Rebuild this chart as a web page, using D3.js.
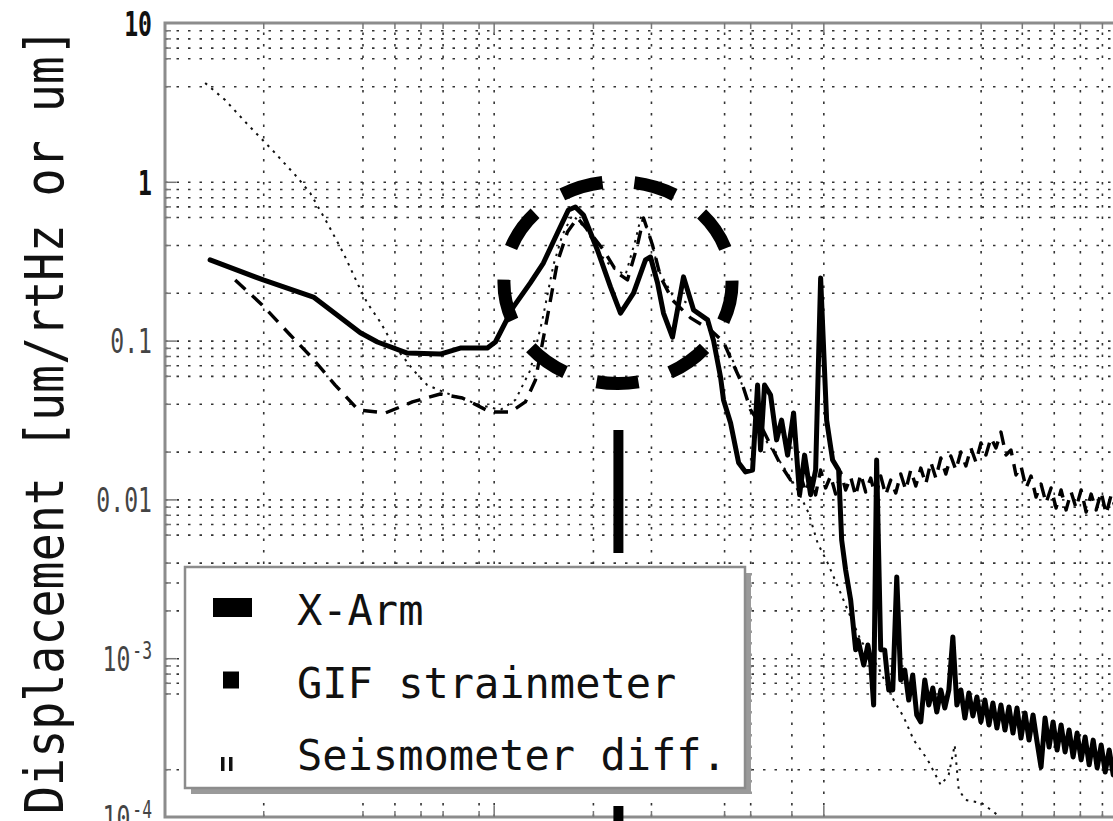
<!DOCTYPE html>
<html>
<head>
<meta charset="utf-8">
<script src="https://cdn.jsdelivr.net/npm/d3@7"></script>
<style>
  html, body { margin: 0; padding: 0; background: #fff; overflow: hidden; }
  svg { display: block; }
</style>
</head>
<body>
<svg id="chart" width="1113" height="821"></svg>
<script>
// ---- Data: [frequency (Hz), displacement (um/rtHz or um)] ----
const xArm = [
  [0.0138,0.322],[0.02,0.241],[0.0284,0.188],[0.0335,0.145],[0.0394,0.112],[0.0444,0.098],
  [0.0547,0.0835],[0.0689,0.0823],[0.0792,0.0898],[0.0957,0.0898],[0.1012,0.098],[0.1148,0.163],
  [0.1292,0.231],[0.1415,0.308],[0.1561,0.476],[0.1686,0.665],[0.177,0.694],[0.1872,0.618],
  [0.2064,0.372],[0.2261,0.218],[0.2425,0.149],[0.2656,0.199],[0.2888,0.322],[0.299,0.336],
  [0.3141,0.231],[0.3274,0.149],[0.3486,0.105],[0.3766,0.252],[0.404,0.156],[0.4456,0.135],
  [0.4645,0.1],[0.4877,0.059],[0.498,0.0423],[0.5232,0.0303],[0.5534,0.017],[0.5809,0.0149],
  [0.61,0.0153],[0.6317,0.0525],[0.6451,0.0205],[0.6632,0.0525],[0.6918,0.0454],[0.7215,0.0237],
  [0.7471,0.0316],[0.779,0.019],[0.8124,0.035],[0.8472,0.0107],[0.8773,0.019],[0.9149,0.0107],
  [0.9477,0.0153],[0.9813,0.248],[1.0233,0.0316],[1.067,0.0177],[1.1129,0.0153],[1.1366,0.00555],
  [1.1687,0.00359],[1.2102,0.00233],[1.2533,0.00113],[1.275,0.0013],[1.326,0.000906],[1.365,0.00121],
  [1.392,0.000946],[1.421,0.000507],[1.451,0.0177],[1.493,0.00113],
  [1.535,0.001126],[1.579,0.000631],[1.624,0.000631],[1.67,0.00325],[1.717,0.000729],[1.766,0.000843],
  [1.816,0.000545],[1.867,0.000784],[1.92,0.000439],[1.975,0.000397],[2.031,0.000729],[2.089,0.000507],
  [2.148,0.000649],[2.209,0.000458],[2.272,0.000631],[2.336,0.000486],[2.403,0.000631],[2.471,0.00136],
  [2.541,0.000507],[2.613,0.000631],[2.688,0.00042],[2.764,0.000604],[2.842,0.000433],[2.923,0.00057],
  [3.006,0.000397],[3.091,0.000545],[3.179,0.00038],[3.269,0.000522],[3.362,0.000363],[3.458,0.000507],
  [3.556,0.000353],[3.657,0.000493],[3.761,0.000338],[3.868,0.000486],[3.977,0.000314],[4.09,0.000452],
  [4.207,0.000305],[4.326,0.000439],[4.449,0.000297],[4.575,0.000206],[4.705,0.00042],[4.839,0.000276],
  [4.976,0.000397],[5.118,0.000264],[5.263,0.00038],[5.412,0.000257],[5.566,0.000353],[5.724,0.000239],
  [5.887,0.000338],[6.054,0.000229],[6.226,0.000319],[6.403,0.000213],[6.585,0.000305],[6.772,0.000204],
  [6.964,0.000284],[7.162,0.000192],[7.366,0.000264],[7.575,0.000184],[7.79,0.000257]
];

const gifStrainmeter = [
  [0.01644,0.241],[0.01985,0.1676],[0.02415,0.1085],[0.02816,0.0777],[0.03306,0.0525],[0.03884,0.0366],
  [0.0469,0.035],[0.0567,0.0411],[0.0689,0.0461],[0.0804,0.0435],[0.0977,0.0355],[0.1124,0.0355],
  [0.1248,0.0411],[0.1339,0.0565],[0.1455,0.1408],[0.1561,0.3125],[0.1674,0.483],[0.1795,0.592],
  [0.1966,0.476],[0.2153,0.372],[0.2375,0.267],[0.2546,0.241],[0.2731,0.4],[0.2848,0.592],
  [0.3032,0.4],[0.3207,0.2515],[0.3486,0.18],[0.3955,0.139],[0.4549,0.1166],[0.498,0.098],
  [0.5343,0.0702],[0.5689,0.0525],[0.6017,0.0366],[0.6451,0.0294],[0.6918,0.022],[0.742,0.0165],
  [0.7956,0.01325],
  [0.853,0.01424],[0.8834,0.01113],[0.9148,0.01364],[0.9474,0.01066],[0.9811,0.01531],[1.016,0.0118],
  [1.0522,0.01404],[1.0897,0.01081],[1.1285,0.01488],[1.1687,0.01146],[1.2103,0.01384],[1.2534,0.0105],
  [1.298,0.01445],[1.3442,0.01113],[1.3921,0.01364],[1.4417,0.01035],[1.493,0.01404],[1.5462,0.01066],
  [1.6012,0.01325],[1.6583,0.01097],[1.7173,0.01445],[1.7785,0.01146],[1.8418,0.01531],[1.9074,0.01214],
  [1.9753,0.01576],[2.0457,0.0125],[2.1185,0.0172],[2.194,0.01364],[2.2721,0.01823],[2.353,0.01445],
  [2.4368,0.01876],[2.5236,0.01531],[2.6135,0.01988],[2.7066,0.01623],[2.803,0.02107],[2.9028,0.0172],
  [3.0062,0.02266],[3.1132,0.01904],[3.2241,0.02436],[3.3389,0.02107],[3.4578,0.02657],[3.581,0.01904],
  [3.7085,0.02047],[3.8406,0.01424],[3.9774,0.01623],[4.119,0.0118],[4.2657,0.01404],[4.4176,0.01035],
  [4.575,0.0125],[4.7379,0.00949],[4.9066,0.0118],[5.0814,0.00883],[5.2623,0.01146],[5.4497,0.00858],
  [5.6438,0.01113],[5.8448,0.00883],[6.053,0.01146],[6.2686,0.00833],[6.4918,0.01081],[6.723,0.00858],
  [6.9624,0.01113],[7.2104,0.0081],[7.4672,0.01066],[7.7331,0.00858]
];

const seismometerDiff = [
  [0.01333,4.19],[0.01533,3.27],[0.018,2.28],[0.0213,1.586],[0.025,1.104],[0.02777,0.85],
  [0.03127,0.55],[0.035,0.356],[0.03884,0.224],[0.04136,0.1725],[0.04529,0.131],[0.0496,0.0938],
  [0.0532,0.0788],[0.057,0.0653],[0.0629,0.0525],[0.07036,0.0475],[0.0792,0.0435],[0.0911,0.0393],
  [0.1048,0.0366],[0.1164,0.0423],[0.1292,0.0653],[0.1405,0.1348],[0.1518,0.299],[0.1616,0.462],
  [0.1733,0.618],[0.1899,0.512],[0.2109,0.346],[0.2293,0.287],[0.2511,0.259],[0.2693,0.43],
  [0.2808,0.618],[0.299,0.443],[0.3162,0.278],[0.3486,0.194],[0.3955,0.1676],[0.4392,0.1348],
  [0.4745,0.0938],[0.5122,0.0898],[0.5494,0.0634],[0.5809,0.0454],[0.6228,0.0316],[0.6676,0.0237],
  [0.7166,0.019],[0.7682,0.0153],[0.8353,0.01146],[0.9025,0.0082],[0.961,0.00531],[1.0306,0.00398],
  [1.1286,0.00257],[1.185,0.00201],[1.298,0.0013],[1.472,0.000868],[1.635,0.000545],[1.753,0.000426],
  [1.8803,0.000305],[2.073,0.000229],[2.2706,0.000159],[2.4,0.000184],[2.503,0.000284],[2.575,0.000148],
  [2.704,0.000128],[3.02,0.0001225],[3.289,0.0001075],[3.576,0.000093]
];

// Axis ticks, grid values and labels
const yLabelValues = [10, 1, 0.1, 0.01, 1e-3, 1e-4];
const yLabelText = ["10", "1", "0.1", "0.01", "10^-3", "10^-4"];
const yGridMajor = [1, 0.1, 0.01, 1e-3];
const yGridMinor = [9, 8, 7, 6, 4,
  0.9, 0.8, 0.7, 0.6, 0.4, 0.2,
  0.09, 0.08, 0.07, 0.06, 0.04, 0.02,
  0.009, 0.008, 0.007, 0.006, 0.004, 0.003, 0.002,
  9e-4, 8e-4, 7e-4, 6e-4, 2e-4];
const xGridMajor = [0.1, 1];
const xGridMinor = [0.02, 0.04, 0.05, 0.06, 0.07, 0.09,
  0.2, 0.3, 0.5, 0.6, 0.8,
  3, 4, 5, 6, 7];

const legendLabels = ["X-Arm", "GIF strainmeter", "Seismometer diff."];
const yTitle = "Displacement [um/rtHz or um]";

// Highlighted microseism band (centre frequency / level) and marker line
const highlightCentre = [0.2383, 0.232];
const markerFreq = 0.239;
const markerTop = 0.0274;

// ---- Layout ----
const svg = d3.select("#chart");
const plot = { left: 165, right: 1153, top: 23, bottom: 817 };
const mono = "'DejaVu Sans Mono', 'Liberation Mono', monospace";

const x = d3.scaleLog().domain([0.01, 10]).range([164, 1153]);
const y = d3.scaleLog().domain([1e-4, 10]).range([817, 23]);

svg.append("rect").attr("width", 1113).attr("height", 821).attr("fill", "#fff");

// ---- Grid ----
const gridStyle = g => {
  g.select(".domain").remove();
  g.selectAll(".tick line")
    .attr("stroke", "#333")
    .attr("stroke-width", 1.6)
    .attr("stroke-dasharray", "2.5,9");
};
svg.append("g")
  .attr("transform", `translate(${plot.left},0)`)
  .call(d3.axisLeft(y).tickValues(yGridMajor.concat(yGridMinor))
    .tickSize(-(plot.right - plot.left)).tickFormat(""))
  .call(gridStyle);
svg.append("g")
  .attr("transform", `translate(0,${plot.bottom})`)
  .call(d3.axisBottom(x).tickValues(xGridMajor.concat(xGridMinor))
    .tickSize(-(plot.bottom - plot.top)).tickFormat(""))
  .call(gridStyle);

// ---- Curves ----
svg.append("clipPath").attr("id", "plotClip")
  .append("rect")
  .attr("x", plot.left).attr("y", plot.top)
  .attr("width", plot.right - plot.left).attr("height", plot.bottom - plot.top);

const line = d3.line().x(d => x(d[0])).y(d => y(d[1]));
const curves = svg.append("g").attr("clip-path", "url(#plotClip)");

curves.append("path").datum(seismometerDiff)
  .attr("d", line).attr("fill", "none")
  .attr("stroke", "#111").attr("stroke-width", 2)
  .attr("stroke-dasharray", "2.5,5.5");

curves.append("path").datum(gifStrainmeter)
  .attr("d", line).attr("fill", "none")
  .attr("stroke", "#000").attr("stroke-width", 3.4)
  .attr("stroke-linejoin", "round")
  .attr("stroke-dasharray", "14,9");

curves.append("path").datum(xArm)
  .attr("d", line).attr("fill", "none")
  .attr("stroke", "#000").attr("stroke-width", 5)
  .attr("stroke-linejoin", "round").attr("stroke-linecap", "round");

// ---- Frame and inner ticks ----
svg.append("rect")
  .attr("x", plot.left).attr("y", plot.top)
  .attr("width", plot.right - plot.left).attr("height", plot.bottom - plot.top)
  .attr("fill", "none").attr("stroke", "#8c8c8c").attr("stroke-width", 3);

const tickStyle = g => {
  g.select(".domain").remove();
  g.selectAll(".tick line").attr("stroke", "#777").attr("stroke-width", 1.5);
};
svg.append("g").attr("transform", `translate(${plot.left},0)`)
  .call(d3.axisLeft(y).tickValues(yGridMinor).tickSize(-6).tickFormat("")).call(tickStyle);
svg.append("g").attr("transform", `translate(${plot.left},0)`)
  .call(d3.axisLeft(y).tickValues(yGridMajor).tickSize(-11).tickFormat("")).call(tickStyle);
svg.append("g").attr("transform", `translate(0,${plot.top})`)
  .call(d3.axisTop(x).tickValues(xGridMinor).tickSize(-6).tickFormat("")).call(tickStyle);
svg.append("g").attr("transform", `translate(0,${plot.top})`)
  .call(d3.axisTop(x).tickValues(xGridMajor).tickSize(-11).tickFormat("")).call(tickStyle);
svg.append("g").attr("transform", `translate(0,${plot.bottom})`)
  .call(d3.axisBottom(x).tickValues(xGridMinor).tickSize(-6).tickFormat("")).call(tickStyle);
svg.append("g").attr("transform", `translate(0,${plot.bottom})`)
  .call(d3.axisBottom(x).tickValues(xGridMajor).tickSize(-11).tickFormat("")).call(tickStyle);

// ---- Y tick labels ----
const labelScaleX = 0.68;
const labelAxis = svg.append("g")
  .attr("transform", `translate(${plot.left},0)`)
  .call(d3.axisLeft(y).tickValues(yLabelValues).tickSize(0).tickPadding(13)
    .tickFormat((d, i) => yLabelText[i]));
labelAxis.select(".domain").remove();
labelAxis.attr("font-family", mono).attr("font-size", 34);
labelAxis.selectAll(".tick text").each(function (d, i) {
  const t = d3.select(this);
  const label = yLabelText[i];
  t.text(null)
    .attr("transform", `scale(${labelScaleX},1)`)
    .attr("x", -13 / labelScaleX)
    .attr("dy", "0.36em")
    .attr("fill", i < 2 ? "#111" : "#444")
    .attr("font-weight", i < 2 ? "bold" : "normal");
  if (label.includes("^")) {
    const [base, exp] = label.split("^");
    t.append("tspan").text(base);
    t.append("tspan").attr("dx", 3).attr("dy", "-0.5em").attr("font-size", 24).text(exp);
  } else {
    t.text(label);
  }
});

// ---- Y axis title ----
svg.append("text")
  .attr("transform", "translate(63,421) rotate(-90)")
  .attr("text-anchor", "middle")
  .attr("font-family", mono)
  .attr("font-size", 54)
  .attr("fill", "#111")
  .attr("textLength", 786)
  .attr("lengthAdjust", "spacingAndGlyphs")
  .text(yTitle);

// ---- Highlight: dashed ellipse around the microseism peaks ----
const cx = x(highlightCentre[0]), cy = y(highlightCentre[1]);
const rx = 114, ry = 101;
const ell = svg.append("path")
  .attr("d", `M${cx},${cy - ry} A${rx},${ry} 0 1,1 ${cx},${cy + ry} A${rx},${ry} 0 1,1 ${cx},${cy - ry}`)
  .attr("fill", "none").attr("stroke", "#000").attr("stroke-width", 13);
const L = ell.node().getTotalLength();
const period = L / 9, dash = period * 0.56, gap = period - dash;
ell.attr("stroke-dasharray", `${dash},${gap}`)
   .attr("stroke-dashoffset", dash + gap / 2);

// ---- Marker line below the highlight ----
svg.append("line")
  .attr("x1", x(markerFreq)).attr("x2", x(markerFreq))
  .attr("y1", y(markerTop)).attr("y2", 840)
  .attr("stroke", "#000").attr("stroke-width", 10)
  .attr("stroke-dasharray", "123,65");

// ---- Legend ----
const legend = svg.append("g");
legend.append("rect")
  .attr("x", 191).attr("y", 573).attr("width", 560).attr("height", 221)
  .attr("fill", "#9a9a9a");
legend.append("rect")
  .attr("x", 185).attr("y", 567).attr("width", 560).attr("height", 221)
  .attr("fill", "#fff").attr("stroke", "#8c8c8c").attr("stroke-width", 2.5);

const rowY = d3.scaleLinear().domain([0, 2]).range([625, 770]);
legend.selectAll("text.lab").data(legendLabels).join("text")
  .attr("class", "lab")
  .attr("x", 297).attr("y", (d, i) => rowY(i))
  .attr("font-family", mono).attr("font-size", 42).attr("fill", "#111")
  .text(d => d);

// symbols: thick bar, square dash, thin dots
legend.append("rect").attr("x", 213).attr("y", rowY(0) - 27).attr("width", 39).attr("height", 19).attr("fill", "#000");
legend.append("rect").attr("x", 223).attr("y", rowY(1) - 26).attr("width", 16).attr("height", 17).attr("fill", "#000");
legend.append("rect").attr("x", 221).attr("y", rowY(2) - 13).attr("width", 3.5).attr("height", 14).attr("fill", "#111");
legend.append("rect").attr("x", 229).attr("y", rowY(2) - 13).attr("width", 3.5).attr("height", 14).attr("fill", "#111");
</script>
</body>
</html>
